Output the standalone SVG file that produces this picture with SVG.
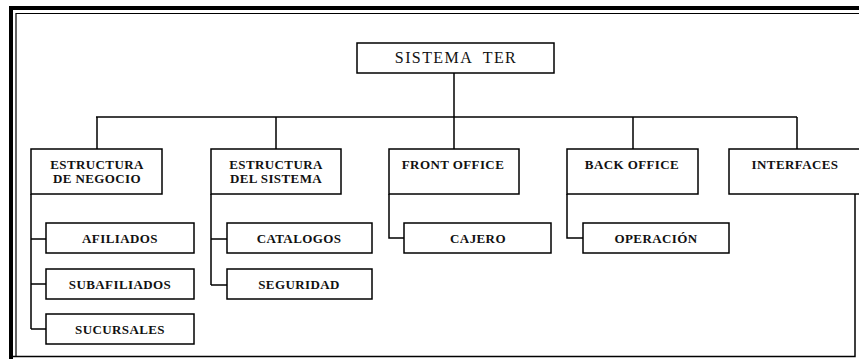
<svg xmlns="http://www.w3.org/2000/svg" width="859" height="359" viewBox="0 0 859 359">
<style>
.box{fill:#fff;stroke:#000;stroke-width:1.5}
.lbl{font-family:"Liberation Serif","Times New Roman",serif;font-size:13px;font-weight:bold;fill:#111;text-anchor:middle;letter-spacing:0.4px}
.root{font-family:"Liberation Serif","Times New Roman",serif;font-size:16px;fill:#111;text-anchor:middle;letter-spacing:1.4px}
.ln{fill:none;stroke:#000;stroke-width:1.5}
</style>
<rect width="859" height="359" fill="#fff"/>
<g id="frame">
<path d="M11 359 V8 H859" fill="none" stroke="#000" stroke-width="4"/>
<path d="M16 356 V13.5 H859" fill="none" stroke="#000" stroke-width="1.2"/>
<path d="M11 356.5 H855 V194" fill="none" stroke="#000" stroke-width="1.5"/>
</g>
<g id="connectors" class="ln">
<path d="M454 73 V117"/>
<path d="M96 117 H797"/>
<path d="M97 117 V149 M276 117 V149 M454 117 V149 M633 117 V149 M797 117 V149"/>
<path d="M31 194 V329 M31 239 H46 M31 284 H46 M31 329 H46"/>
<path d="M211 194 V285 M211 239 H227 M211 285 H227"/>
<path d="M389 194 V238 H404"/>
<path d="M567 194 V238 H583"/>
</g>
<g id="sistema-ter"><rect class="box" x="357" y="43" width="197" height="30"/><text class="root" x="456" y="63" xml:space="preserve">SISTEMA  TER</text></g>
<g id="estructura-negocio"><rect class="box" x="31" y="149" width="131" height="45"/><text class="lbl" x="97" y="169">ESTRUCTURA</text><text class="lbl" x="97" y="183">DE NEGOCIO</text></g>
<g id="estructura-sistema"><rect class="box" x="211" y="149" width="130" height="45"/><text class="lbl" x="276" y="169">ESTRUCTURA</text><text class="lbl" x="276" y="183">DEL SISTEMA</text></g>
<g id="front-office"><rect class="box" x="389" y="149" width="130" height="45"/><text class="lbl" x="453" y="169">FRONT OFFICE</text></g>
<g id="back-office"><rect class="box" x="567" y="149" width="131" height="45"/><text class="lbl" x="632" y="169">BACK OFFICE</text></g>
<g id="interfaces"><rect class="box" x="729" y="149" width="132" height="45"/><text class="lbl" x="795" y="169">INTERFACES</text></g>
<g id="afiliados"><rect class="box" x="46" y="223" width="148" height="30"/><text class="lbl" x="120" y="243">AFILIADOS</text></g>
<g id="subafiliados"><rect class="box" x="46" y="269" width="148" height="30"/><text class="lbl" x="120" y="289">SUBAFILIADOS</text></g>
<g id="sucursales"><rect class="box" x="46" y="314" width="148" height="30"/><text class="lbl" x="120" y="334">SUCURSALES</text></g>
<g id="catalogos"><rect class="box" x="227" y="223" width="145" height="30"/><text class="lbl" x="299" y="243">CATALOGOS</text></g>
<g id="seguridad"><rect class="box" x="227" y="269" width="145" height="30"/><text class="lbl" x="299" y="289">SEGURIDAD</text></g>
<g id="cajero"><rect class="box" x="404" y="223" width="147" height="30"/><text class="lbl" x="478" y="243">CAJERO</text></g>
<g id="operacion"><rect class="box" x="583" y="223" width="146" height="30"/><text class="lbl" x="656" y="243">OPERACIÓN</text></g>
</svg>
